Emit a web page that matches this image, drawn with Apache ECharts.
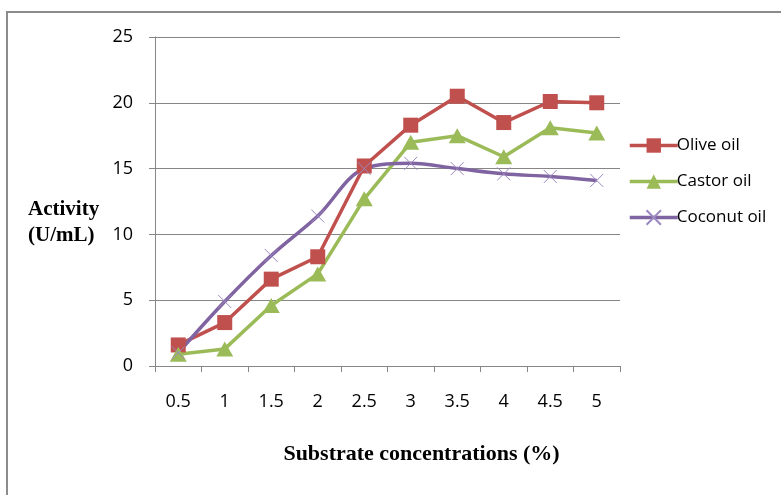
<!DOCTYPE html>
<html><head><meta charset="utf-8">
<script src="https://cdn.jsdelivr.net/npm/echarts@6/dist/echarts.min.js"></script>
<style>html,body{margin:0;padding:0;background:#fff}#c{width:781px;height:495px}</style>
</head><body><div id="c"></div>
<script>
const categories = ['0.5','1','1.5','2','2.5','3','3.5','4','4.5','5'];
const olive   = [1.6, 3.3, 6.6, 8.3, 15.2, 18.3, 20.5, 18.5, 20.1, 20.0];
const castor  = [0.9, 1.3, 4.6, 7.0, 12.7, 17.0, 17.5, 15.9, 18.1, 17.7];
const coconut = [1.0, 4.9, 8.4, 11.4, 15.0, 15.4, 15.0, 14.6, 14.4, 14.1];
const seriesNames = ['Olive oil', 'Castor oil', 'Coconut oil'];

const xPath = 'path://M0,0L10,10M10,0L0,10';
const chart = echarts.init(document.getElementById('c'), null, {renderer:'canvas'});
chart.setOption({
  animation:false,
  grid:{left:155, top:37, right:161, bottom:129, containLabel:false},
  legend:{
    orient:'vertical', left:623, top:132, itemGap:19, itemWidth:48, itemHeight:18,
    lineStyle:{width:3.5},
    textStyle:{fontFamily:'Open Sans, Liberation Sans, sans-serif', fontSize:17, color:'#000', padding:[0,0,0,-6]},
    data:seriesNames
  },
  xAxis:{
    type:'category', data:categories, boundaryGap:true,
    name:'Substrate concentrations (%)', nameLocation:'middle', nameGap:77,
    nameTextStyle:{fontFamily:'Liberation Serif, serif', fontWeight:'bold', fontSize:22, color:'#000', padding:[0,0,0,68]},
    axisLine:{lineStyle:{color:'#868686', width:1}},
    axisTick:{show:true, length:6, lineStyle:{color:'#868686'}},
    axisLabel:{fontFamily:'Open Sans, Liberation Sans, sans-serif', fontSize:18, color:'#000', margin:27}
  },
  yAxis:{
    type:'value', min:0, max:25, interval:5,
    axisLine:{show:true, lineStyle:{color:'#868686'}},
    axisTick:{show:true, length:6, lineStyle:{color:'#868686'}},
    splitLine:{lineStyle:{color:'#868686', width:1}},
    axisLabel:{fontFamily:'Open Sans, Liberation Sans, sans-serif', fontSize:18, color:'#000', margin:22}
  },
  graphic:[
    {type:'polyline', shape:{points:[[7,495],[7,12],[781,12]]}, style:{stroke:'#8c8c8c', lineWidth:2, fill:null}},
    {type:'text', left:28, top:197,
     style:{text:'Activity\n(U/mL)', font:'bold 21px "Liberation Serif", serif', fill:'#000', lineHeight:26, textAlign:'left'}}
  ],
  series:[
    {name:seriesNames[0], type:'line', data:olive, symbol:'rect', symbolSize:15,
     lineStyle:{color:'#C0504D', width:3.5}, itemStyle:{color:'#C0504D'}},
    {name:seriesNames[1], type:'line', data:castor, symbol:'triangle', symbolSize:[17,15],
     lineStyle:{color:'#9BBB59', width:3.5}, itemStyle:{color:'#9BBB59'}},
    {name:seriesNames[2], type:'line', data:coconut, symbol:xPath, symbolSize:13, smooth:0.35,
     lineStyle:{color:'#8064A2', width:3.5}, itemStyle:{color:'#fff', borderColor:'#9C88C0', borderWidth:1}}
  ]
});
</script></body></html>
